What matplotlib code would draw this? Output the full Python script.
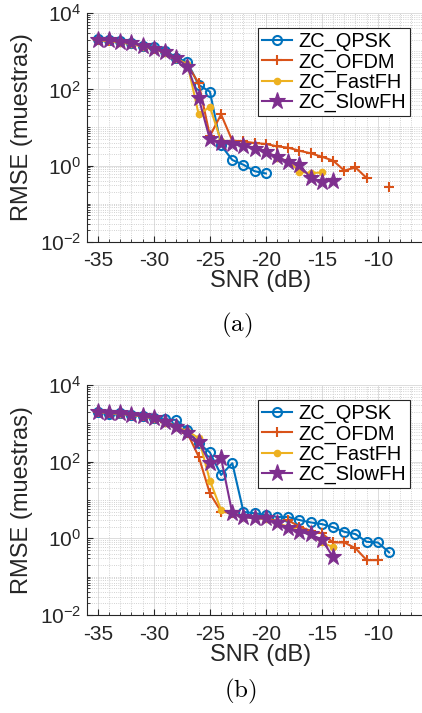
import matplotlib
matplotlib.use("Agg")
import matplotlib.pyplot as plt
import numpy as np
from matplotlib.ticker import FixedLocator, MultipleLocator, NullFormatter

plt.rcParams['font.family'] = ['Liberation Sans', 'DejaVu Sans']

# values (RMSE in samples vs SNR in dB)
labels = ["ZC_QPSK", "ZC_OFDM", "ZC_FastFH", "ZC_SlowFH"]

# (a)
snr_a_qpsk = list(range(-35, -19))
rmse_a_qpsk = [2090, 1950, 1820, 1620, 1380, 1320, 1050, 690, 510, 132, 87,
               3.4, 1.4, 1.05, 0.71, 0.62]
snr_a_ofdm = list(range(-35, -8))
rmse_a_ofdm = [2000, 1900, 1780, 1620, 1410, 1170, 980, 660, 440, 145, 6.0,
               22, 4.5, 4.3, 3.9, 3.7, 3.2, 2.95, 2.45, 2.1, 1.7, 1.35, 0.74,
               0.89, 0.47, np.nan, 0.27]
snr_a_fast = list(range(-35, -14))
rmse_a_fast = [1950, 1860, 1700, 1550, 1320, 1120, 930, 630, 460, 22, 35,
               4.3, 3.8, 3.4, 2.95, 2.35, 1.6, 1.3, 0.69, 0.63, 0.66]
snr_a_slow = list(range(-35, -13))
rmse_a_slow = [2000, 1950, 1780, 1620, 1410, 1150, 980, 660, 400, 59, 4.9,
               4.0, 3.7, 3.2, 2.8, 2.25, 1.7, 1.26, 1.05, 0.47, 0.38, 0.40]

# (b)
snr_b_qpsk = list(range(-35, -8))
rmse_b_qpsk = [2000, 1780, 1820, 1620, 1550, 1380, 1260, 1230, 680, 300, 174,
               45, 91, 4.9, 4.5, 4.1, 3.6, 3.6, 3.0, 2.6, 2.35, 1.95, 1.48,
               1.29, 0.81, 0.78, 0.43]
snr_b_ofdm = list(range(-35, -9))
rmse_b_ofdm = [2000, 1820, 1820, 1660, 1550, 1350, 1100, 850, 550, 135, 14.8,
               5.0, 4.5, 3.8, 3.5, 3.4, 2.8, 2.95, 2.0, 1.58, 1.35, 0.78, 0.78,
               0.55, 0.27, 0.27]
snr_b_fast = list(range(-35, -13))
rmse_b_fast = [1950, 1820, 1780, 1620, 1510, 1320, 1050, 790, 630, 410, 32,
               5.5, 4.5, 3.7, 3.3, 3.2, 2.5, 2.0, 1.58, 1.32, 0.78, 0.59]
snr_b_slow = list(range(-35, -13))
rmse_b_slow = [2000, 1860, 1820, 1660, 1550, 1350, 1100, 810, 550, 330, 91,
               123, 4.5, 3.6, 3.3, 3.3, 2.45, 1.82, 1.48, 1.26, 0.93, 0.32]

xticks = [-35, -30, -25, -20, -15, -10]
yticks = [1e-2, 1e0, 1e2, 1e4]
ytick_labels = [r'$\mathregular{10^{-2}}$', r'$\mathregular{10^{0}}$',
                r'$\mathregular{10^{2}}$', r'$\mathregular{10^{4}}$']

colors = ['#0072BD', '#D95319', '#EDB120', '#7E2F8E']
styles = [
    dict(marker='o', markersize=6.5, markerfacecolor='none', markeredgewidth=1.5),
    dict(marker='+', markersize=7.5, markeredgewidth=1.5),
    dict(marker='o', markersize=5.5, markeredgewidth=0),
    dict(marker='*', markersize=12.5, markeredgewidth=0.8),
]

W, H = 422, 713
fig = plt.figure(figsize=(W / 100, H / 100), dpi=100)


def px_axes(left, top, right, bottom):
    return fig.add_axes([left / W, 1 - bottom / H, (right - left) / W, (bottom - top) / H])


def setup(ax):
    ax.set_yscale('log')
    ax.set_xlim(-36, -5)
    ax.set_ylim(1e-2, 1e4)
    ax.set_xticks(xticks)
    ax.set_xticklabels([str(t) for t in xticks])
    ax.set_yticks(yticks)
    ax.set_yticklabels(ytick_labels)
    minor_y = [k * 10.0 ** n for n in range(-2, 4) for k in range(1, 10)
               if not (k == 1 and n % 2 == 0)]
    ax.yaxis.set_minor_locator(FixedLocator(minor_y))
    ax.yaxis.set_minor_formatter(NullFormatter())
    ax.xaxis.set_minor_locator(MultipleLocator(1))
    ax.tick_params(which='both', direction='in', colors='#262626', labelsize=15)
    ax.tick_params(which='major', length=4, width=0.8)
    ax.tick_params(which='minor', length=2, width=0.6)
    ax.tick_params(axis='x', pad=7)
    ax.tick_params(axis='y', pad=4)
    for s in ['top', 'right']:
        ax.spines[s].set_visible(False)
    for s in ['left', 'bottom']:
        ax.spines[s].set_color('#262626')
        ax.spines[s].set_linewidth(0.8)
    ax.grid(True, which='major', color='#dcdcdc', lw=0.7)
    ax.grid(True, which='minor', color='#c4c4c4', lw=0.6, ls=':')
    ax.set_axisbelow(True)


def draw(ax, series, top_px):
    for (x, y), c, st, lab in zip(series, colors, styles, labels):
        ax.plot(x, y, color=c, lw=1.5, label=lab, clip_on=False, **st)
    ax.set_ylabel('RMSE (muestras)', fontsize=17, color='#262626')
    ax.yaxis.set_label_coords(-(86.7 - 33) / 347.2, 0.5)
    ax.set_xlabel('SNR (dB)', fontsize=17, color='#262626', labelpad=0)
    ax.legend(loc='upper right', bbox_to_anchor=(410 / W, 1 - top_px / H),
              bbox_transform=fig.transFigure, borderaxespad=0, fontsize=14.4,
              frameon=True, fancybox=False, edgecolor='#262626', framealpha=1,
              handlelength=1.5, handletextpad=0.3, borderpad=0.2,
              labelspacing=0.05)
    ax.get_legend().get_frame().set_linewidth(0.8)


ax1 = px_axes(86.7, 13.3, 86.7 + 31 * 11.2, 241.7)
setup(ax1)
draw(ax1, [(snr_a_qpsk, rmse_a_qpsk), (snr_a_ofdm, rmse_a_ofdm),
           (snr_a_fast, rmse_a_fast), (snr_a_slow, rmse_a_slow)], 28)

ax2 = px_axes(86.7, 385, 86.7 + 31 * 11.2, 615)
setup(ax2)
draw(ax2, [(snr_b_qpsk, rmse_b_qpsk), (snr_b_ofdm, rmse_b_ofdm),
           (snr_b_fast, rmse_b_fast), (snr_b_slow, rmse_b_slow)], 400)

fig.text(236.7 / W, 1 - 325 / H, r'$\mathrm{(a)}$', math_fontfamily='cm',
         fontsize=18, ha='center', va='center')
fig.text(240.7 / W, 1 - 691.7 / H, r'$\mathrm{(b)}$', math_fontfamily='cm',
         fontsize=18, ha='center', va='center')

fig.savefig('out.png', dpi=100)
